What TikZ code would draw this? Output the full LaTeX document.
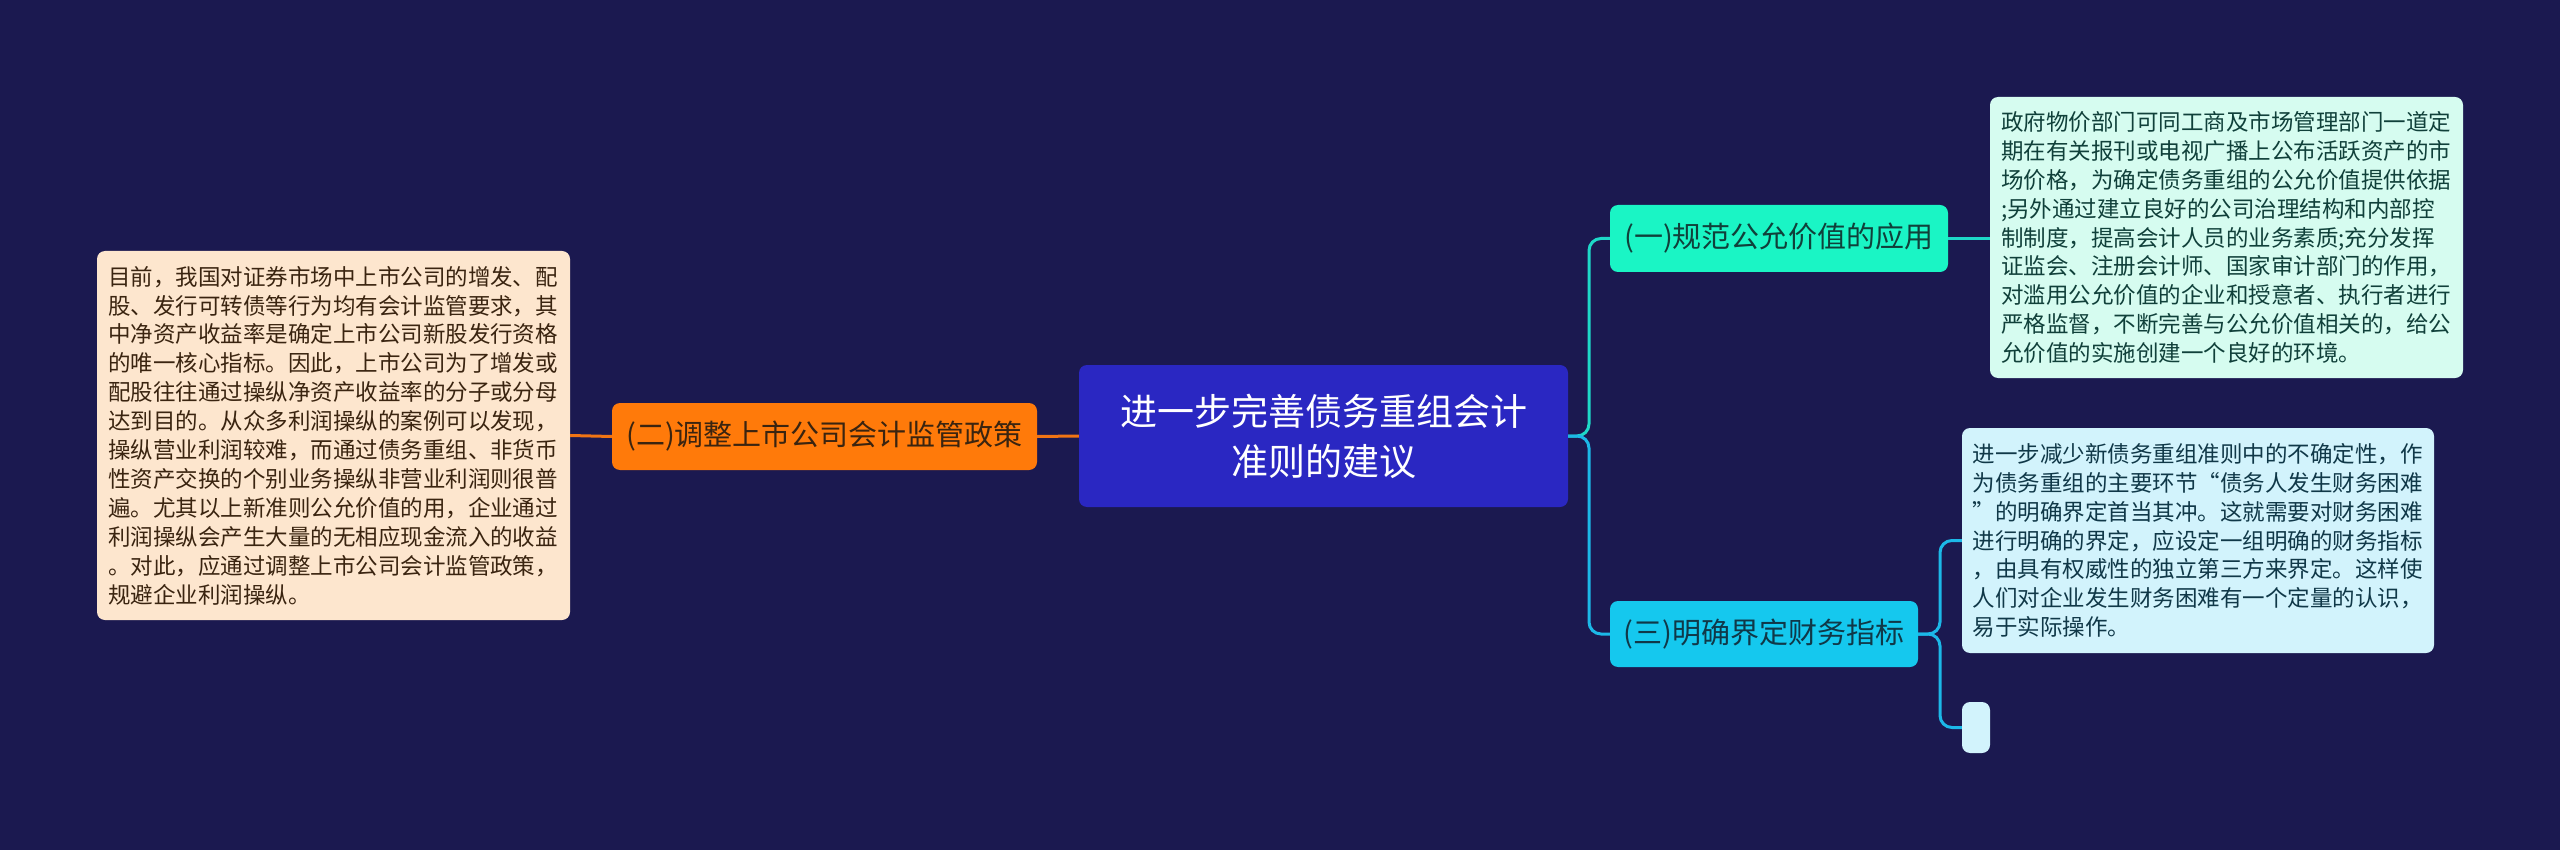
\documentclass[tikz,border=0pt]{standalone}
\usepackage{fontspec}
\setmainfont{Noto Sans CJK SC}
\begin{document}
\begin{tikzpicture}[x=1pt,y=-1pt,
  box/.style={rounded corners=8pt, inner sep=0pt, align=left},
  para/.style={box, font=\fontsize{22.5}{28.9}\selectfont},
  lbl/.style={box, align=center, font=\fontsize{29}{34}\selectfont},
  conn/.style={line width=3pt, rounded corners=12pt}]
\definecolor{bg}{HTML}{1B1950}
\definecolor{rootc}{HTML}{2A27C2}
\definecolor{orng}{HTML}{FF7A0A}
\definecolor{orngline}{HTML}{F07414}
\definecolor{teal}{HTML}{1AF5C5}
\definecolor{tealline}{HTML}{1ED8C8}
\definecolor{cyan}{HTML}{15C8EE}
\definecolor{cyanline}{HTML}{1CB8E8}
\definecolor{peach}{HTML}{FDE6CE}
\definecolor{mint}{HTML}{D6FCF0}
\definecolor{ice}{HTML}{D2F3FC}
\definecolor{brown}{HTML}{3A2410}
\definecolor{dgreen}{HTML}{10403A}
\definecolor{dblue}{HTML}{103848}
\fill[bg] (0,0) rectangle (2560,850);
\useasboundingbox (0,0) rectangle (2560,850);

% nodes
\node[box, fill=rootc, text=white, minimum width=489pt, minimum height=142pt,
  align=center, font=\fontsize{37}{50}\selectfont] (root) at (1323.5,436)
  {进一步完善债务重组会计\\准则的建议};
\node[lbl, fill=orng, text=brown, minimum width=425pt, minimum height=67pt] (n2) at (824.5,436.5)
  {(二)调整上市公司会计监管政策};
\node[lbl, fill=teal, text=dgreen, minimum width=338pt, minimum height=67pt] (n1) at (1779,238.5)
  {(一)规范公允价值的应用};
\node[lbl, fill=cyan, text=dblue, minimum width=308pt, minimum height=66pt] (n3) at (1764,634)
  {(三)明确界定财务指标};

\node[para, fill=peach, text=brown, minimum width=473pt, minimum height=369pt, text width=451pt] (t2) at (333.5,435.5)
  {目前，我国对证券市场中上市公司的增发、配\\
股、发行可转债等行为均有会计监管要求，其\\
中净资产收益率是确定上市公司新股发行资格\\
的唯一核心指标。因此，上市公司为了增发或\\
配股往往通过操纵净资产收益率的分子或分母\\
达到目的。从众多利润操纵的案例可以发现，\\
操纵营业利润较难，而通过债务重组、非货币\\
性资产交换的个别业务操纵非营业利润则很普\\
遍。尤其以上新准则公允价值的用，企业通过\\
利润操纵会产生大量的无相应现金流入的收益\\
。对此，应通过调整上市公司会计监管政策，\\
规避企业利润操纵。};

\node[para, fill=mint, text=dgreen, minimum width=473pt, minimum height=281pt, text width=451pt] (t1) at (2226.5,237.5)
  {政府物价部门可同工商及市场管理部门一道定\\
期在有关报刊或电视广播上公布活跃资产的市\\
场价格，为确定债务重组的公允价值提供依据\\
;另外通过建立良好的公司治理结构和内部控\\
制制度，提高会计人员的业务素质;充分发挥\\
证监会、注册会计师、国家审计部门的作用，\\
对滥用公允价值的企业和授意者、执行者进行\\
严格监督，不断完善与公允价值相关的，给公\\
允价值的实施创建一个良好的环境。};

\node[para, fill=ice, text=dblue, minimum width=472pt, minimum height=225pt, text width=451pt] (t3) at (2198,540.5)
  {进一步减少新债务重组准则中的不确定性，作\\
为债务重组的主要环节“债务人发生财务困难\\
”的明确界定首当其冲。这就需要对财务困难\\
进行明确的界定，应设定一组明确的财务指标\\
，由具有权威性的独立第三方来界定。这样使\\
人们对企业发生财务困难有一个定量的认识，\\
易于实际操作。};

\node[box, fill=ice, minimum width=28pt, minimum height=51pt] (t4) at (1976,727.5) {};

% connectors
\draw[conn, orngline] (root.west) -- (n2.east);
\draw[conn, orngline] (n2.west) -- (t2.east);
\draw[conn, tealline] (root.east) -- (1589,436) |- (n1.west);
\draw[conn, cyanline] (root.east) -- (1589,436) |- (n3.west);
\draw[conn, tealline] (n1.east) -- (t1.west |- n1.east);
\draw[conn, cyanline] (n3.east) -- (1940,634) |- (t3.west);
\draw[conn, cyanline] (n3.east) -- (1940,634) |- (t4.west);
\end{tikzpicture}
\end{document}
